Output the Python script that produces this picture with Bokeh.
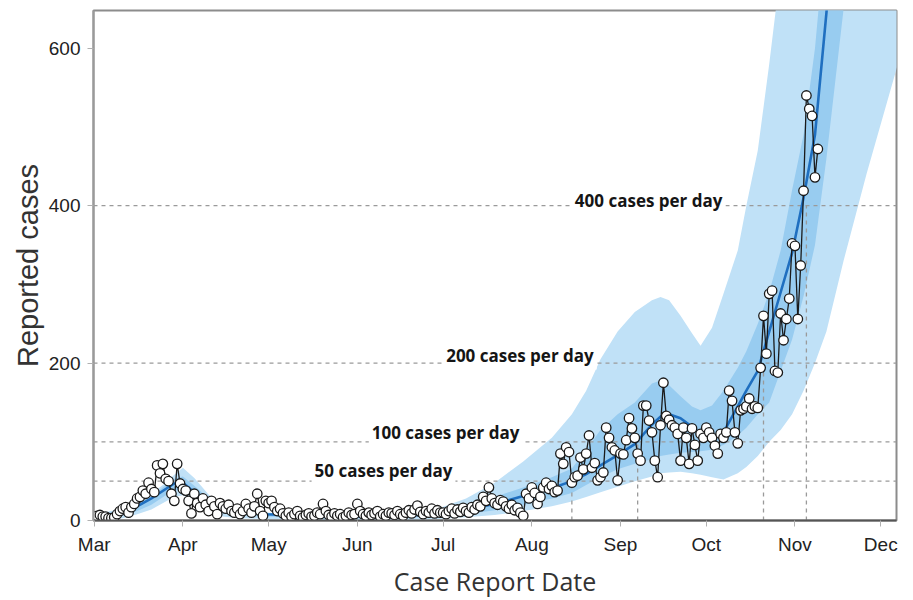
import pandas as pd
from bokeh.plotting import figure
from bokeh.models import FixedTicker, DatetimeTickFormatter, Label, Range1d
from bokeh.embed import file_html
from bokeh.resources import INLINE

START = "2020-03-01"

# ---- daily reported cases ----
mar_cases = [4, 6, 7, 5, 5, 3, 3, 4, 8, 12, 15, 17, 10, 17, 21, 28, 30, 38, 34, 48,
             40, 36, 70, 60, 72, 53, 50, 34, 25, 72, 47]
apr_cases = [40, 38, 25, 9, 34, 22, 17, 28, 20, 12, 25, 18, 8, 22, 18, 15, 20, 12, 10, 15,
             8, 12, 21, 15, 10, 18, 34, 12, 6, 25]
may_cases = [22, 25, 17, 12, 15, 9, 6, 10, 5, 8, 12, 6, 4, 7, 9, 5, 6, 10, 8, 21,
             12, 7, 5, 9, 6, 8, 4, 6, 10, 7, 8]
jun_cases = [21, 12, 8, 6, 10, 7, 9, 12, 5, 8, 6, 10, 9, 7, 12, 8, 6, 10, 13, 9,
             14, 19, 11, 8, 12, 10, 15, 9, 13, 10]
jul_cases = [10, 8, 12, 15, 9, 14, 11, 16, 12, 10, 17, 14, 20, 18, 30, 25, 42, 28, 22, 20,
             26, 24, 18, 15, 20, 13, 16, 10, 6, 34, 28]
aug_cases = [42, 35, 21, 30, 42, 48, 40, 44, 36, 38, 85, 72, 93, 87, 48, 55, 57, 80, 65, 85,
             108, 67, 73, 51, 55, 61, 118, 105, 93, 89, 51]
sep_cases = [85, 84, 102, 130, 117, 105, 85, 76, 146, 146, 127, 112, 76, 55, 121, 175, 133, 128, 121, 118,
             110, 76, 118, 105, 72, 117, 96, 76, 110, 105]
oct_cases = [118, 112, 105, 95, 85, 110, 105, 112, 165, 152, 112, 98, 140, 142, 145, 155, 142, 145, 143, 194,
             260, 212, 288, 292, 190, 188, 263, 229, 256, 282, 352]
nov_cases = [349, 256, 324, 419, 540, 523, 514, 436, 472]

daily_cases = mar_cases + apr_cases + may_cases + jun_cases + jul_cases + aug_cases + sep_cases + oct_cases + nov_cases
report_dates = pd.date_range(START, periods=len(daily_cases), freq="D")

# ---- fitted trend and uncertainty bands (days since 1 March) ----
band_day = [0, 10, 15, 20, 25, 28, 31, 35, 40, 45, 50, 60, 80, 100, 110, 120, 130, 140, 150, 160,
            167, 172, 177, 183, 189, 195, 198, 201, 205, 209, 212, 216, 220, 225, 228, 232, 236, 240, 244, 248,
            252, 256, 262, 270, 281]
fit_cases = [3, 10, 18, 28, 40, 47, 48, 36, 22, 14, 11, 8, 5, 5, 6, 9, 14, 21, 31, 41,
             50, 59, 70, 83, 97, 122, 132, 135, 130, 119, 110, 106, 112, 145, 165, 190, 240, 290, 340, 410,
             490, 645, 900, 1300, 2000]
outer_lo = [0, 3, 8, 14, 24, 30, 32, 24, 12, 5, 3, 2, 1, 1, 1, 2, 4, 7, 12, 18,
            24, 30, 36, 43, 50, 56, 60, 61, 62, 60, 58, 55, 52, 60, 68, 82, 100, 115, 135, 165,
            200, 240, 330, 440, 580]
outer_hi = [8, 15, 24, 34, 48, 58, 67, 54, 33, 18, 14, 10, 8, 8, 10, 15, 28, 48, 75, 105,
            135, 165, 205, 240, 265, 280, 284, 280, 260, 238, 222, 245, 288, 343, 400, 470, 580, 700, 800, 900,
            1000, 1000, 1000, 1000, 1000]
inner_lo = [2, 6, 12, 20, 32, 38, 39, 28, 15, 9, 7, 5, 3, 3, 4, 5, 8, 13, 20, 28,
            35, 45, 55, 65, 72, 78, 82, 84, 86, 87, 88, 90, 96, 108, 118, 135, 150, 190, 230, 285,
            350, 460, 650, 900, 1000]
inner_hi = [5, 14, 22, 30, 45, 53, 56, 44, 28, 18, 14, 10, 7, 7, 9, 13, 20, 30, 42, 55,
            66, 90, 115, 135, 150, 174, 178, 172, 158, 145, 140, 146, 165, 194, 215, 250, 290, 343, 420, 490,
            600, 760, 950, 1000, 1000]
band_dates = pd.Timestamp(START) + pd.to_timedelta(band_day, unit="D")

# ---- thresholds ----
threshold_levels = [50, 100, 200, 400]
threshold_dates = pd.to_datetime(["2020-08-15", "2020-09-07", "2020-10-21", "2020-11-05"])
threshold_texts = ["50 cases per day", "100 cases per day", "200 cases per day", "400 cases per day"]
threshold_text_dates = ["2020-05-16", "2020-06-05", "2020-07-01", "2020-08-15"]

month_ticks = pd.date_range("2020-03-01", "2020-12-01", freq="MS")
y_ticks = [0, 200, 400, 600]

x_start = pd.Timestamp("2020-02-29 18:00")
x_end = pd.Timestamp("2020-12-06 12:00")

p = figure(width=905, height=600, x_axis_type="datetime", output_backend="svg",
           toolbar_location=None,
           x_range=Range1d(x_start, x_end), y_range=Range1d(0, 648),
           min_border_left=93, min_border_right=9, min_border_top=10, min_border_bottom=0)
p.background_fill_color = "white"
p.border_fill_color = "white"
p.outline_line_color = "#8c8c8c"
p.outline_line_width = 2
p.grid.visible = False

# bands
p.varea(x=band_dates, y1=outer_lo, y2=outer_hi, fill_color="#c0e1f7", fill_alpha=1.0)
p.varea(x=band_dates, y1=inner_lo, y2=inner_hi, fill_color="#98ccf0", fill_alpha=1.0)

# threshold dashed lines
p.segment(x0=[x_start] * 4, y0=threshold_levels, x1=[x_end] * 4, y1=threshold_levels,
          line_color="#9a9a9a", line_width=1.3, line_dash="4 4")
p.segment(x0=threshold_dates, y0=[0] * 4, x1=threshold_dates, y1=threshold_levels,
          line_color="#9a9a9a", line_width=1.3, line_dash="4 4")

# fitted curve
p.line(x=band_dates, y=fit_cases, line_color="#1f6fc0", line_width=2.6)

# data
p.line(x=report_dates, y=daily_cases, line_color="#1a1a1a", line_width=1.3)
p.scatter(x=report_dates, y=daily_cases, size=9.5, marker="circle",
          fill_color="white", line_color="#1a1a1a", line_width=1.3)

# threshold labels
offsets = [11, 9, 8, 5]
for txt, d, lvl, off in zip(threshold_texts, threshold_text_dates, threshold_levels, offsets):
    p.add_layout(Label(x=pd.Timestamp(d).value / 1e6, y=lvl, text=txt,
                       text_font="Open Sans", text_font_style="bold", text_font_size="17px",
                       text_color="#151515", text_baseline="middle", text_align="left",
                       y_offset=off, background_fill_color="white", padding=3))

# axes
p.xaxis.ticker = FixedTicker(ticks=[t.value / 1e6 for t in month_ticks])
p.xaxis.formatter = DatetimeTickFormatter(days="%b", months="%b", years="%b")
p.yaxis.ticker = FixedTicker(ticks=y_ticks)
p.xaxis.minor_tick_line_color = None
p.yaxis.minor_tick_line_color = None

for ax in (p.xaxis[0], p.yaxis[0]):
    ax.major_label_text_font = "Liberation Sans"
    ax.major_label_text_font_size = "19px"
    ax.major_label_text_color = "#222222"
    ax.major_tick_line_color = "#b0b0b0"
    ax.major_tick_out = 6
    ax.major_tick_in = 0
    ax.major_label_standoff = 7

p.xaxis.axis_line_color = "#555555"
p.xaxis.axis_line_width = 2
p.yaxis.axis_line_color = "#9a9a9a"
p.yaxis.axis_line_width = 2

p.xaxis.axis_label = "Case Report Date"
p.xaxis.axis_label_text_font = "Open Sans"
p.xaxis.axis_label_text_font_size = "25px"
p.xaxis.axis_label_text_font_style = "normal"
p.xaxis.axis_label_text_color = "#333333"
p.xaxis.axis_label_standoff = 6

p.yaxis.axis_label = "Reported cases"
p.yaxis.axis_label_text_font = "Liberation Sans"
p.yaxis.axis_label_text_font_size = "29px"
p.yaxis.axis_label_text_font_style = "normal"
p.yaxis.axis_label_text_color = "#333333"
p.yaxis.axis_label_standoff = 2

open("out.html", "w").write(file_html(p, INLINE))
